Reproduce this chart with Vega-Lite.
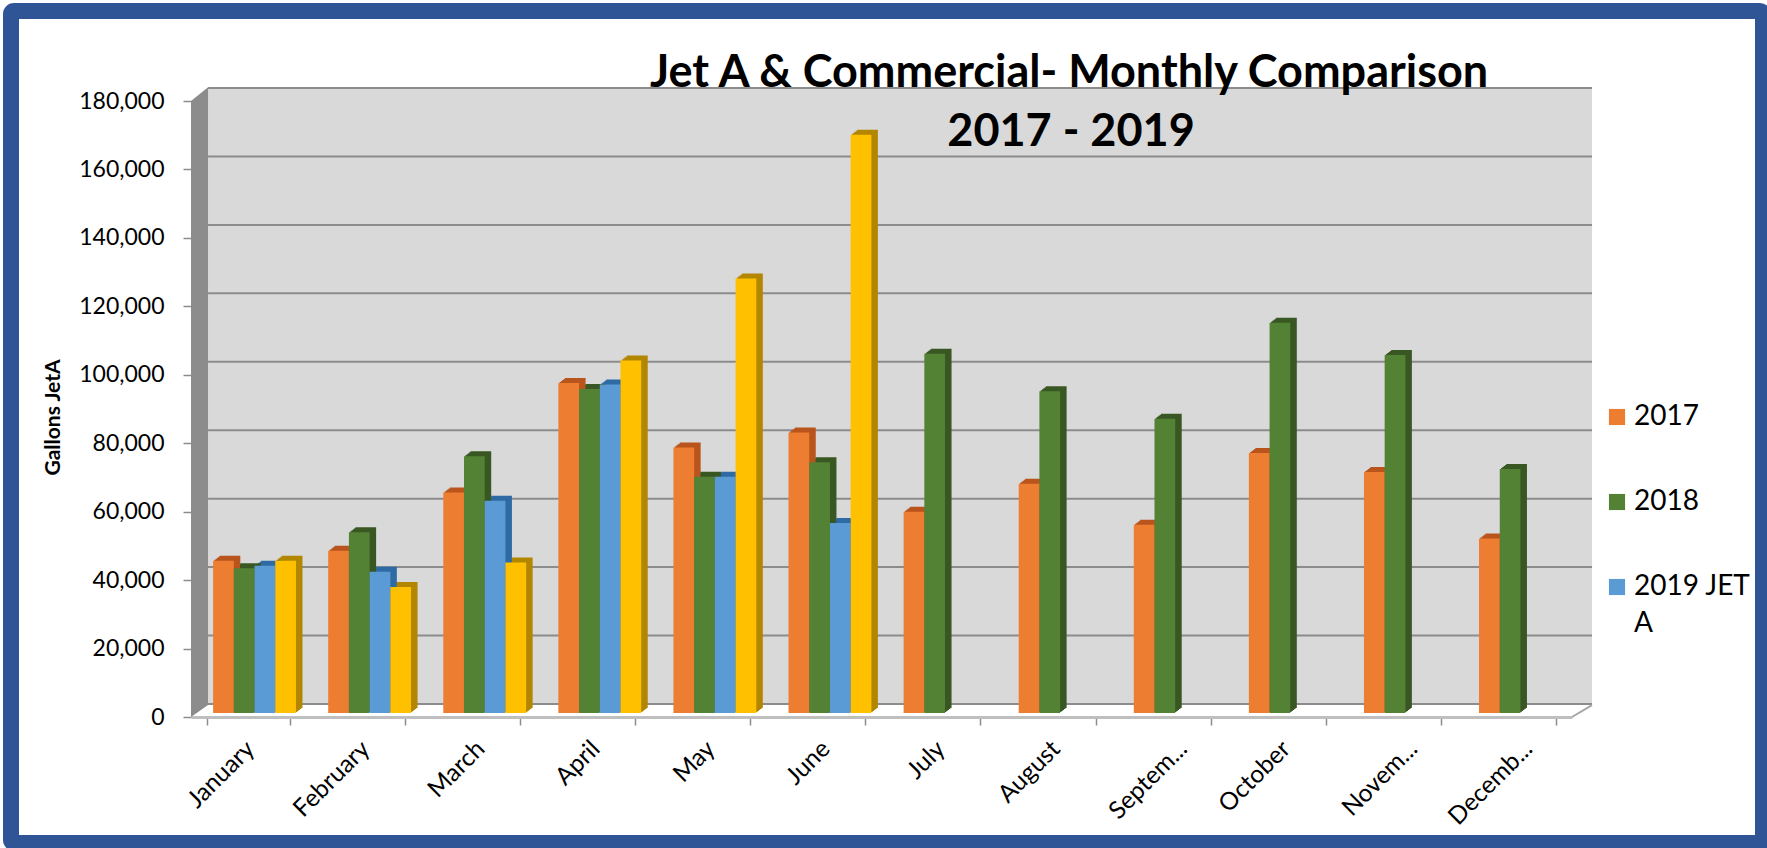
{"$schema":"https://vega.github.io/schema/vega-lite/v6.json","width":1752,"height":832,"autosize":{"type":"none"},"padding":{"left":11,"top":11,"right":4,"bottom":5},"background":"white","view":{"fill":"white","stroke":"#2F5597","strokeWidth":16,"cornerRadius":3},"config":{"font":"Lato","axisY":{"titleFont":"Lato","titleFontSize":21,"titleFontWeight":"bold","titleColor":"#000000","titleAngle":-90,"labelFont":"Lato","labelFontSize":23,"labelColor":"#000000","labelPadding":19,"grid":false,"domain":false,"tickColor":"#8C8C8C","tickSize":8,"tickWidth":1.5}},"datasets":{"fuel":[{"month":"January","series":"2017","gallons":44500},{"month":"January","series":"2018","gallons":42300},{"month":"January","series":"2019 JET A","gallons":43000},{"month":"January","series":"2019 Commercial","gallons":44500},{"month":"February","series":"2017","gallons":47400},{"month":"February","series":"2018","gallons":52800},{"month":"February","series":"2019 JET A","gallons":41300},{"month":"February","series":"2019 Commercial","gallons":36800},{"month":"March","series":"2017","gallons":64400},{"month":"March","series":"2018","gallons":75000},{"month":"March","series":"2019 JET A","gallons":62000},{"month":"March","series":"2019 Commercial","gallons":44000},{"month":"April","series":"2017","gallons":96400},{"month":"April","series":"2018","gallons":94700},{"month":"April","series":"2019 JET A","gallons":96000},{"month":"April","series":"2019 Commercial","gallons":103000},{"month":"May","series":"2017","gallons":77600},{"month":"May","series":"2018","gallons":69000},{"month":"May","series":"2019 JET A","gallons":69000},{"month":"May","series":"2019 Commercial","gallons":127000},{"month":"June","series":"2017","gallons":82000},{"month":"June","series":"2018","gallons":73300},{"month":"June","series":"2019 JET A","gallons":55500},{"month":"June","series":"2019 Commercial","gallons":169000},{"month":"July","series":"2017","gallons":58800},{"month":"July","series":"2018","gallons":105000},{"month":"August","series":"2017","gallons":67000},{"month":"August","series":"2018","gallons":94000},{"month":"Septem...","series":"2017","gallons":55000},{"month":"Septem...","series":"2018","gallons":86000},{"month":"October","series":"2017","gallons":76000},{"month":"October","series":"2018","gallons":114000},{"month":"Novem...","series":"2017","gallons":70400},{"month":"Novem...","series":"2018","gallons":104600},{"month":"Decemb...","series":"2017","gallons":51000},{"month":"Decemb...","series":"2018","gallons":71300}]},"layer":[{"data":{"values":[{"a":0.148,"b":12.174,"lo":3500,"hi":184000}]},"mark":{"type":"rect","color":"#D9D9D9"},"encoding":{"x":{"field":"a","type":"quantitative","scale":{"domain":[0,12],"range":[180,1561]},"axis":null},"x2":{"field":"b"},"y":{"field":"lo","type":"quantitative","scale":{"domain":[0,180000],"range":[706,90],"nice":false},"axis":{"title":"Gallons JetA","titleX":-128,"titleY":406,"offset":-180,"values":[0,20000,40000,60000,80000,100000,120000,140000,160000,180000],"labelExpr":"format(datum.value, ',')"}},"y2":{"field":"hi"}}},{"data":{"values":[{"pos":0,"lo":0,"hi":180000},{"pos":0.148,"lo":3500,"hi":184000}]},"mark":{"type":"area","color":"#8C8C8C"},"encoding":{"x":{"field":"pos","type":"quantitative","scale":{"domain":[0,12],"range":[180,1561]},"axis":null},"y":{"field":"lo","type":"quantitative"},"y2":{"field":"hi"}}},{"data":{"values":[{"a":0.148,"b":12.174,"v":0},{"a":0.148,"b":12.174,"v":20000},{"a":0.148,"b":12.174,"v":40000},{"a":0.148,"b":12.174,"v":60000},{"a":0.148,"b":12.174,"v":80000},{"a":0.148,"b":12.174,"v":100000},{"a":0.148,"b":12.174,"v":120000},{"a":0.148,"b":12.174,"v":140000},{"a":0.148,"b":12.174,"v":160000},{"a":0.148,"b":12.174,"v":180000}]},"mark":{"type":"rule","color":"#8C8C8C","strokeWidth":2,"yOffset":-13},"encoding":{"x":{"field":"a","type":"quantitative","scale":{"domain":[0,12],"range":[180,1561]},"axis":null},"x2":{"field":"b"},"y":{"field":"v","type":"quantitative"}}},{"data":{"values":[{"a":12,"b":12.174,"lo":0,"hi":3500}]},"mark":{"type":"rule","color":"#A6A6A6","strokeWidth":2},"encoding":{"x":{"field":"a","type":"quantitative","scale":{"domain":[0,12],"range":[180,1561]},"axis":null},"x2":{"field":"b"},"y":{"field":"lo","type":"quantitative"},"y2":{"field":"hi"}}},{"data":{"name":"fuel"},"mark":{"type":"bar","opacity":0},"encoding":{"x":{"field":"month","type":"nominal","sort":null,"scale":{"range":[180,1561],"paddingInner":0.28,"paddingOuter":0.14},"axis":{"title":null,"labelAngle":-45,"labelAlign":"right","labelBaseline":"middle","labelFont":"Lato","labelFontSize":24.5,"labelColor":"#000000","labelPadding":20,"labelOffset":{"condition":{"test":"indexof(datum.label,'...')>0","value":14},"value":2},"labelOverlap":false,"labelLimit":200,"offset":-126,"domainColor":"#BFBFBF","domainWidth":3,"tickColor":"#8C8C8C","tickSize":8,"tickWidth":1.5,"tickBand":"extent"}},"y":{"field":"gallons","type":"quantitative"}}},{"data":{"name":"fuel"},"mark":{"type":"bar","yOffset":-5},"encoding":{"x":{"field":"month","type":"nominal","sort":null,"scale":{"range":[187.3,1568.3],"paddingInner":0.28,"paddingOuter":0.14},"axis":null},"xOffset":{"field":"series","type":"nominal","scale":{"domain":["2017","2018","2019 JET A","2019 Commercial"]}},"y":{"field":"gallons","type":"quantitative"},"color":{"field":"series","type":"nominal","legend":null,"scale":{"domain":["2017","2018","2019 JET A","2019 Commercial"],"range":["#B9551C","#385723","#2E6BA4","#B38600"]}}}},{"data":{"name":"fuel"},"mark":{"type":"bar","yOffset":-6},"encoding":{"x":{"field":"month","type":"nominal","sort":null,"scale":{"range":[188.6,1569.6],"paddingInner":0.28,"paddingOuter":0.14},"axis":null},"xOffset":{"field":"series","type":"nominal","scale":{"domain":["2017","2018","2019 JET A","2019 Commercial"]}},"y":{"field":"gallons","type":"quantitative"},"color":{"field":"series","type":"nominal","legend":null,"scale":{"domain":["2017","2018","2019 JET A","2019 Commercial"],"range":["#B9551C","#385723","#2E6BA4","#B38600"]}}}},{"data":{"name":"fuel"},"mark":{"type":"bar","yOffset":-7},"encoding":{"x":{"field":"month","type":"nominal","sort":null,"scale":{"range":[189.9,1570.9],"paddingInner":0.28,"paddingOuter":0.14},"axis":null},"xOffset":{"field":"series","type":"nominal","scale":{"domain":["2017","2018","2019 JET A","2019 Commercial"]}},"y":{"field":"gallons","type":"quantitative"},"color":{"field":"series","type":"nominal","legend":null,"scale":{"domain":["2017","2018","2019 JET A","2019 Commercial"],"range":["#B9551C","#385723","#2E6BA4","#B38600"]}}}},{"data":{"name":"fuel"},"mark":{"type":"bar","yOffset":-8},"encoding":{"x":{"field":"month","type":"nominal","sort":null,"scale":{"range":[191.2,1572.2],"paddingInner":0.28,"paddingOuter":0.14},"axis":null},"xOffset":{"field":"series","type":"nominal","scale":{"domain":["2017","2018","2019 JET A","2019 Commercial"]}},"y":{"field":"gallons","type":"quantitative"},"color":{"field":"series","type":"nominal","legend":null,"scale":{"domain":["2017","2018","2019 JET A","2019 Commercial"],"range":["#B9551C","#385723","#2E6BA4","#B38600"]}}}},{"data":{"name":"fuel"},"mark":{"type":"bar","yOffset":-9},"encoding":{"x":{"field":"month","type":"nominal","sort":null,"scale":{"range":[192.5,1573.5],"paddingInner":0.28,"paddingOuter":0.14},"axis":null},"xOffset":{"field":"series","type":"nominal","scale":{"domain":["2017","2018","2019 JET A","2019 Commercial"]}},"y":{"field":"gallons","type":"quantitative"},"color":{"field":"series","type":"nominal","legend":null,"scale":{"domain":["2017","2018","2019 JET A","2019 Commercial"],"range":["#B9551C","#385723","#2E6BA4","#B38600"]}}}},{"data":{"name":"fuel"},"mark":{"type":"bar","yOffset":-4},"encoding":{"x":{"field":"month","type":"nominal","sort":null,"scale":{"range":[186,1567],"paddingInner":0.28,"paddingOuter":0.14},"axis":null},"xOffset":{"field":"series","type":"nominal","scale":{"domain":["2017","2018","2019 JET A","2019 Commercial"]}},"y":{"field":"gallons","type":"quantitative"},"color":{"field":"series","type":"nominal","scale":{"domain":["2017","2018","2019 JET A","2019 Commercial"],"range":["#ED7D31","#548235","#5B9BD5","#FFC000"]},"legend":{"title":null,"orient":"none","legendX":1592,"legendY":392,"values":["2017","2018","2019 JET A"],"symbolType":"square","symbolSize":260,"symbolStrokeWidth":0,"labelFont":"Lato","labelFontSize":28,"labelColor":"#000000","labelLimit":200,"labelOffset":3,"rowPadding":57,"labelExpr":"datum.label == '2019 JET A' ? ['2019 JET','A'] : datum.label","encoding":{"labels":{"lineHeight":{"value":37}}}}}}},{"data":{"values":[{"pos":7.63,"level":188200,"label":"Jet A & Commercial- Monthly Comparison"},{"pos":7.647,"level":170950,"label":"2017 - 2019"}]},"mark":{"type":"text","font":"Lato","fontSize":45,"fontWeight":"bold","color":"#000000","align":"center","baseline":"middle"},"encoding":{"x":{"field":"pos","type":"quantitative","scale":{"domain":[0,12],"range":[180,1561]},"axis":null},"y":{"field":"level","type":"quantitative"},"text":{"field":"label"}}}],"resolve":{"scale":{"x":"independent","color":"independent"},"axis":{"x":"independent"}}}
